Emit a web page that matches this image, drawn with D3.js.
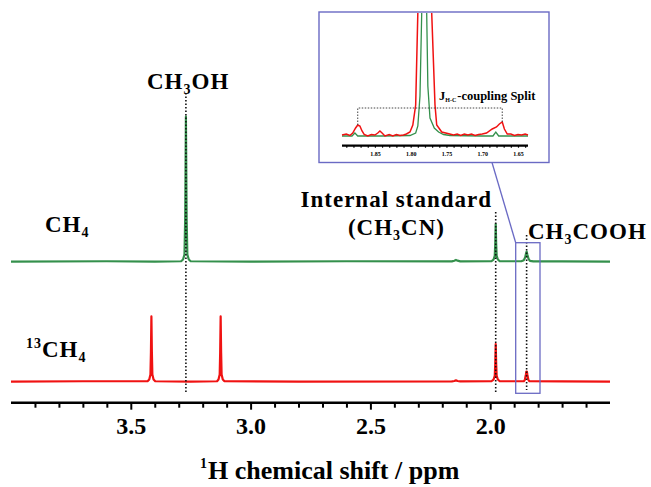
<!DOCTYPE html>
<html>
<head>
<meta charset="utf-8">
<script src="https://cdn.jsdelivr.net/npm/d3@7"></script>
<style>
  body { margin: 0; background: #fff; }
  text { font-family: "Liberation Serif", "Times New Roman", serif; font-weight: bold; fill: #000; }
</style>
</head>
<body>
<svg id="nmr" width="651" height="487"></svg>
<script>
// Spectra: [ppm, intensity]; CH3OH (green) = 100
const greenSpectrum = [
  [4.00, 0], [3.60, 0.3], [3.40, 0], [3.29, 0.3], [3.282, 1.5], [3.276, 5], [3.273, 30], [3.270, 100],
  [3.267, 30], [3.264, 5], [3.258, 1.5], [3.250, 0.3], [3.00, 0], [2.60, 0.3], [2.16, 0.2], [2.150, 0.7],
  [2.143, 1.2], [2.136, 0.7], [2.125, 0.2], [1.995, 0.3], [1.986, 1.5], [1.981, 4], [1.979, 12], [1.977, 26],
  [1.975, 12], [1.973, 4], [1.968, 1.5], [1.960, 0.3], [1.870, 0.3], [1.860, 1], [1.854, 3], [1.850, 6],
  [1.848, 7], [1.845, 5], [1.840, 2], [1.834, 0.6], [1.82, 0.2], [1.70, 0.2], [1.50, 0]
];
const redSpectrum = [
  [4.00, 0], [3.70, 0.3], [3.43, 0.3], [3.423, 1.5], [3.418, 5], [3.416, 20], [3.414, 45], [3.412, 20],
  [3.410, 5], [3.405, 1.5], [3.398, 0.3], [3.25, 0], [3.14, 0.3], [3.134, 1.5], [3.129, 5], [3.127, 20],
  [3.125, 45], [3.123, 20], [3.121, 5], [3.116, 1.5], [3.109, 0.3], [2.80, 0], [2.16, 0.2], [2.150, 0.5],
  [2.143, 0.9], [2.136, 0.5], [2.125, 0.2], [1.995, 0.3], [1.986, 1.5], [1.981, 4], [1.979, 12], [1.977, 26],
  [1.975, 12], [1.973, 4], [1.968, 1.5], [1.960, 0.3], [1.860, 0.3], [1.855, 1.5], [1.851, 5], [1.849, 7],
  [1.847, 7], [1.845, 5], [1.841, 1.5], [1.836, 0.3], [1.70, 0.2], [1.50, 0]
];

// Inset (CH3COOH region), intensity in inset units
const insetRed = [
  [1.896, 0], [1.890, 1], [1.885, -0.5], [1.881, 2], [1.877, 7], [1.874, 10], [1.871, 9], [1.868, 4],
  [1.865, 0.5], [1.860, -1], [1.855, 0.5], [1.850, 0], [1.846, 2], [1.843, 4], [1.840, 2], [1.836, -1],
  [1.830, 0.5], [1.825, -1], [1.820, 0.5], [1.815, -0.5], [1.810, 0], [1.806, 1], [1.801, 3],
  [1.797, 10], [1.793, 30], [1.790, 122], [1.787, 300], [1.780, 600], [1.773, 300], [1.7706, 122],
  [1.766, 30], [1.7636, 10], [1.7566, 3], [1.7454, 1], [1.740, 0], [1.735, 1], [1.730, -0.5],
  [1.725, 1], [1.720, 0], [1.715, 1], [1.710, -0.5], [1.705, 0.5], [1.700, 1], [1.694, 2], [1.686, 6],
  [1.680, 8], [1.676, 11], [1.672, 13], [1.669, 6], [1.665, 1], [1.660, 1], [1.655, -0.5], [1.650, 0.5],
  [1.645, 0], [1.640, 1], [1.636, 0]
];
const insetGreen = [
  [1.896, 0], [1.882, 0], [1.878, 3], [1.874, 0], [1.840, 0], [1.801, 0.5], [1.793, 3], [1.790, 10],
  [1.787, 40], [1.7846, 122], [1.781, 800], [1.7776, 122], [1.776, 50], [1.773, 18], [1.767, 8],
  [1.761, 4], [1.754, 1.5], [1.745, 0.5], [1.700, 0], [1.685, 0], [1.681, 4], [1.677, 0], [1.636, 0]
];

const majorTicks = [3.5, 3.0, 2.5, 2.0];
const minorTicks = d3.range(39, 15, -1).map(d => d / 10);
const insetTicks = d3.range(189, 163, -1).map(d => d / 100);
const insetLabels = [1.85, 1.80, 1.75, 1.70, 1.65];

const peakLines = [
  { ppm: 3.270, y0: 93, y1: 394 },
  { ppm: 1.977, y0: 212, y1: 392 },
  { ppm: 1.848, y0: 235, y1: 390 }
];

const green = "#34904c";
const red = "#f01212";
const blue = "#6a6ac4";

const svg = d3.select("#nmr");

const x = d3.scaleLinear().domain([4.0, 1.5]).range([11, 610]);
const yGreen = d3.scaleLinear().domain([0, 100]).range([261.7, 116.7]);
const yRed = d3.scaleLinear().domain([0, 100]).range([381.7, 236.7]);

svg.append("path")
  .datum(greenSpectrum)
  .attr("fill", "none")
  .attr("stroke", green)
  .attr("stroke-width", 2.2)
  .attr("stroke-linejoin", "round")
  .attr("d", d3.line().x(d => x(d[0])).y(d => yGreen(d[1])));

svg.append("path")
  .datum(redSpectrum)
  .attr("fill", "none")
  .attr("stroke", red)
  .attr("stroke-width", 2.2)
  .attr("stroke-linejoin", "round")
  .attr("d", d3.line().x(d => x(d[0])).y(d => yRed(d[1])));

// dotted guide lines
svg.selectAll(".guide")
  .data(peakLines)
  .enter()
  .append("line")
  .attr("x1", d => x(d.ppm))
  .attr("x2", d => x(d.ppm))
  .attr("y1", d => d.y0)
  .attr("y2", d => d.y1)
  .attr("stroke", "#111")
  .attr("stroke-width", 1.6)
  .attr("stroke-dasharray", "1.5,2");

// main axis
const axis = svg.append("g")
  .attr("transform", "translate(0,402.7)")
  .call(d3.axisBottom(x)
    .tickValues(minorTicks)
    .tickSize(5)
    .tickFormat(d => majorTicks.some(m => Math.abs(m - d) < 1e-6) ? d3.format(".1f")(d) : ""));
axis.select(".domain").remove();
axis.append("line")
  .attr("x1", 11).attr("x2", 610)
  .attr("stroke", "#000").attr("stroke-width", 2.6);
axis.selectAll(".tick line")
  .attr("stroke", "#000")
  .attr("stroke-width", 2)
  .attr("y2", d => majorTicks.some(m => Math.abs(m - d) < 1e-6) ? 7 : 5);
axis.selectAll(".tick text")
  .attr("y", 31)
  .attr("dy", 0)
  .style("font-size", "24px")
  .style("font-family", "'Liberation Serif', 'Times New Roman', serif")
  .style("font-weight", "bold");

// axis title
const title = svg.append("text")
  .attr("x", 200).attr("y", 479)
  .style("font-size", "26px");
title.append("tspan").text("1").style("font-size", "14px").attr("dy", -11);
title.append("tspan").text("H chemical shift / ppm").attr("dy", 11).attr("dx", 1);

// compound labels
function chem(xPos, yPos, parts, size, anchor) {
  const t = svg.append("text")
    .attr("x", xPos).attr("y", yPos)
    .attr("text-anchor", anchor || "start")
    .style("font-size", size + "px")
    .style("letter-spacing", "1px");
  let shift = 0;
  parts.forEach(p => {
    const target = p.sub ? 5 : p.sup ? -9 : 0;
    t.append("tspan")
      .text(p.t)
      .attr("dy", target - shift)
      .style("font-size", (p.sub || p.sup) ? Math.round(size * 0.6) + "px" : null);
    shift = target;
  });
  return t;
}

chem(147, 89, [{ t: "CH" }, { t: "3", sub: true }, { t: "OH" }], 23);
chem(45, 232, [{ t: "CH" }, { t: "4", sub: true }], 23);
chem(26, 357, [{ t: "13", sup: true }, { t: "CH" }, { t: "4", sub: true }], 23);
chem(492, 207, [{ t: "Internal standard" }], 23, "end");
chem(445, 235, [{ t: "(CH" }, { t: "3", sub: true }, { t: "CN)" }], 23, "end");
chem(528, 239, [{ t: "CH" }, { t: "3", sub: true }, { t: "COOH" }], 23);

// zoom box around CH3COOH and connector
svg.append("rect")
  .attr("x", 515.7).attr("y", 242.7)
  .attr("width", 24.3).attr("height", 150.6)
  .attr("fill", "none").attr("stroke", blue).attr("stroke-width", 1.3);
svg.append("line")
  .attr("x1", 492).attr("y1", 162.5)
  .attr("x2", 515.7).attr("y2", 242.7)
  .attr("stroke", blue).attr("stroke-width", 1.3);

// inset
const inset = svg.append("g");
inset.append("rect")
  .attr("x", 319).attr("y", 12)
  .attr("width", 230).attr("height", 150.5)
  .attr("fill", "#fff").attr("stroke", blue).attr("stroke-width", 1.4);

svg.append("clipPath").attr("id", "insetClip")
  .append("rect").attr("x", 320).attr("y", 13).attr("width", 228).attr("height", 148);

const xi = d3.scaleLinear().domain([1.896, 1.636]).range([342, 528]);
const yiRed = d3.scaleLinear().domain([0, 100]).range([135, 35]);
const yiGreen = d3.scaleLinear().domain([0, 100]).range([136, 36]);

const insetPlot = inset.append("g").attr("clip-path", "url(#insetClip)");
insetPlot.append("path")
  .datum(insetGreen)
  .attr("fill", "none").attr("stroke", green).attr("stroke-width", 1.3)
  .attr("d", d3.line().x(d => xi(d[0])).y(d => yiGreen(d[1])));
insetPlot.append("path")
  .datum(insetRed)
  .attr("fill", "none").attr("stroke", red).attr("stroke-width", 1.5)
  .attr("d", d3.line().x(d => xi(d[0])).y(d => yiRed(d[1])));

// J coupling marker
const jLeft = 1.874, jRight = 1.672;
inset.append("path")
  .attr("d", `M${xi(jLeft)},125 V108 H${xi(jRight)} V122`)
  .attr("fill", "none").attr("stroke", "#444").attr("stroke-width", 1)
  .attr("stroke-dasharray", "1.5,1.5");

const jText = inset.append("text")
  .attr("x", 439).attr("y", 100)
  .style("font-size", "12.5px");
jText.append("tspan").text("J");
jText.append("tspan").text("H-C").style("font-size", "6px").attr("dy", 2);
jText.append("tspan").text("-coupling Split").attr("dy", -2).attr("dx", 1);

const insetAxis = inset.append("g")
  .attr("transform", "translate(0,145.7)")
  .call(d3.axisBottom(xi)
    .tickValues(insetTicks)
    .tickSize(2)
    .tickFormat(d => insetLabels.some(m => Math.abs(m - d) < 1e-6) ? d3.format(".2f")(d) : ""));
insetAxis.select(".domain").remove();
insetAxis.append("line")
  .attr("x1", 342).attr("x2", 528)
  .attr("stroke", "#000").attr("stroke-width", 2.2);
insetAxis.selectAll(".tick line").attr("stroke", "#000").attr("stroke-width", 1.2);
insetAxis.selectAll(".tick text")
  .attr("y", 10).attr("dy", 0)
  .style("font-size", "6px")
  .style("font-family", "'Liberation Serif', 'Times New Roman', serif")
  .style("font-weight", "bold");
</script>
</body>
</html>
